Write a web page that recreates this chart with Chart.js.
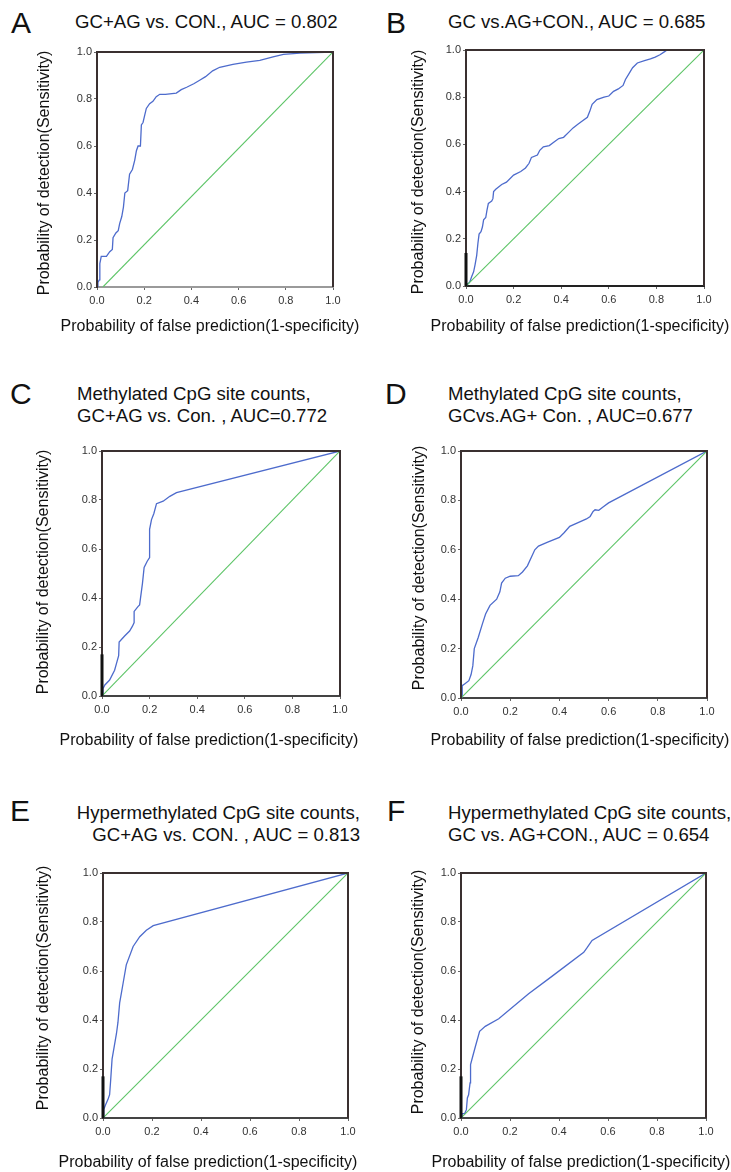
<!DOCTYPE html>
<html>
<head>
<meta charset="utf-8">
<script src="https://cdn.jsdelivr.net/npm/chart.js@4.4.0/dist/chart.umd.min.js"></script>
<style>
  body { margin: 0; width: 731px; height: 1172px; background: #fff; position: relative; overflow: hidden;
         font-family: "Liberation Sans", Arial, sans-serif; color: #111; }
  .letter { position: absolute; font-size: 30px; line-height: 1; }
  .title { position: absolute; font-size: 18.6px; line-height: 22px; white-space: nowrap; }
  .xt, .yt { position: absolute; font-size: 16px; line-height: 19px; white-space: nowrap; }
  .xt { transform: translate(-50%, -50%); }
  .yt { transform: translate(-50%, -50%) rotate(-90deg); }
  canvas { position: absolute; }
</style>
</head>
<body>
<div class="letter" style="left:11px;top:8px">A</div>
<div class="title" style="left:75px;top:11px">GC+AG vs. CON., AUC = 0.802</div>
<div class="letter" style="left:386px;top:8px">B</div>
<div class="title" style="left:448px;top:11px">GC vs.AG+CON., AUC = 0.685</div>

<div class="letter" style="left:10px;top:379px">C</div>
<div class="title" style="left:77px;top:383px">Methylated CpG site counts,<br>GC+AG vs. Con. , AUC=0.772</div>
<div class="letter" style="left:385px;top:379px">D</div>
<div class="title" style="left:448px;top:383px">Methylated CpG site counts,<br>GCvs.AG+ Con. , AUC=0.677</div>

<div class="letter" style="left:10px;top:796px">E</div>
<div class="title" style="left:76px;top:802px;width:284px;text-align:right">Hypermethylated CpG site counts,<br>GC+AG vs. CON. , AUC = 0.813</div>
<div class="letter" style="left:387px;top:796px">F</div>
<div class="title" style="left:448px;top:802px">Hypermethylated CpG site counts,<br>GC vs. AG+CON., AUC = 0.654</div>

<canvas id="cA" width="314" height="295" style="left:33px;top:40px"></canvas>
<canvas id="cB" width="311" height="297" style="left:407px;top:38px"></canvas>
<canvas id="cC" width="322" height="310" style="left:32px;top:439px"></canvas>
<canvas id="cD" width="313" height="310" style="left:408px;top:439px"></canvas>
<canvas id="cE" width="330" height="310" style="left:32px;top:861px"></canvas>
<canvas id="cF" width="313" height="310" style="left:407px;top:861px"></canvas>

<script>
// ROC curves: false positive rate (x) and sensitivity (y)
const fprA = [0,0.004,0.01,0.012,0.018,0.04,0.054,0.065,0.068,0.08,0.09,0.096,0.105,0.112,0.118,0.13,0.138,0.15,0.16,0.167,0.174,0.184,0.188,0.195,0.202,0.209,0.223,0.237,0.251,0.266,0.29,0.336,0.357,0.38,0.41,0.435,0.46,0.49,0.52,0.576,0.633,0.69,0.746,0.79,0.86,1];
const tprA = [0,0.02,0.03,0.1,0.13,0.13,0.15,0.16,0.21,0.23,0.24,0.27,0.3,0.34,0.4,0.41,0.48,0.5,0.54,0.58,0.6,0.6,0.69,0.7,0.73,0.76,0.78,0.79,0.81,0.82,0.82,0.825,0.84,0.85,0.865,0.88,0.895,0.92,0.935,0.947,0.957,0.964,0.979,0.99,0.995,1];

const fprB = [0,0.003,0.01,0.017,0.024,0.032,0.038,0.045,0.05,0.055,0.063,0.069,0.074,0.083,0.088,0.094,0.101,0.108,0.113,0.116,0.125,0.15,0.17,0.2,0.23,0.25,0.265,0.275,0.3,0.31,0.325,0.35,0.37,0.39,0.41,0.43,0.45,0.47,0.49,0.51,0.52,0.53,0.55,0.58,0.6,0.62,0.64,0.66,0.67,0.685,0.7,0.72,0.75,0.775,0.795,0.815,0.83,0.845,1];
const tprB = [0,0.01,0.01,0.02,0.04,0.06,0.09,0.13,0.18,0.22,0.23,0.25,0.28,0.29,0.32,0.35,0.355,0.36,0.37,0.4,0.41,0.43,0.44,0.47,0.485,0.5,0.52,0.545,0.555,0.575,0.59,0.595,0.61,0.625,0.63,0.65,0.67,0.685,0.7,0.715,0.74,0.77,0.79,0.8,0.805,0.825,0.835,0.85,0.875,0.9,0.925,0.945,0.955,0.962,0.97,0.98,0.99,1,1];

const fprC = [0,0.004,0.012,0.032,0.053,0.063,0.07,0.072,0.095,0.116,0.128,0.135,0.135,0.151,0.158,0.17,0.177,0.19,0.2,0.2,0.208,0.218,0.229,0.257,0.285,0.313,1];
const tprC = [0,0.03,0.045,0.065,0.105,0.14,0.165,0.22,0.245,0.265,0.285,0.3,0.345,0.365,0.372,0.46,0.525,0.55,0.565,0.68,0.72,0.745,0.785,0.795,0.815,0.83,1];

const fprD = [0,0.005,0.005,0.016,0.032,0.041,0.048,0.054,0.07,0.087,0.1,0.118,0.145,0.158,0.165,0.18,0.2,0.233,0.25,0.27,0.3,0.315,0.35,0.4,0.42,0.442,0.476,0.51,0.525,0.537,0.545,0.56,0.58,0.6,1];
const tprD = [0,0.005,0.05,0.058,0.07,0.095,0.13,0.2,0.245,0.3,0.34,0.375,0.4,0.43,0.465,0.485,0.493,0.495,0.51,0.535,0.6,0.615,0.63,0.65,0.67,0.695,0.71,0.725,0.735,0.755,0.762,0.76,0.775,0.79,1];

const fprE = [0,0.003,0.011,0.02,0.027,0.031,0.037,0.048,0.055,0.061,0.068,0.075,0.082,0.095,0.123,0.15,0.177,0.205,1];
const tprE = [0,0.035,0.055,0.075,0.095,0.15,0.24,0.305,0.345,0.39,0.47,0.51,0.55,0.625,0.7,0.74,0.766,0.785,1];

const fprF = [0,0.004,0.015,0.022,0.026,0.031,0.037,0.039,0.048,0.059,0.076,0.099,0.154,0.276,0.371,0.501,0.514,0.535,1];
const tprF = [0,0.018,0.018,0.034,0.082,0.095,0.143,0.218,0.252,0.293,0.354,0.374,0.405,0.507,0.578,0.676,0.694,0.725,1];

// reference (chance) lines
const diagXA = [0.025, 1];
const diagX = [0, 1];
const diagY = [0, 1];

const tickValues = [0, 0.2, 0.4, 0.6, 0.8, 1.0];
const xTitle = 'Probability of false prediction(1-specificity)';
const yTitle = 'Probability of detection(Sensitivity)';

const FONT = '"Liberation Sans", Arial, sans-serif';
const BLUE = '#4d6bcc';
const GREEN = '#5cc466';

// axis titles as page text, so they keep their natural width
function axisTitles(xc, xy, yx, yc) {
    const xt = document.createElement('div');
    xt.className = 'xt';
    xt.style.left = xc + 'px';
    xt.style.top = xy + 'px';
    xt.textContent = xTitle;
    document.body.appendChild(xt);
    const yt = document.createElement('div');
    yt.className = 'yt';
    yt.style.left = yx + 'px';
    yt.style.top = yc + 'px';
    yt.textContent = yTitle;
    document.body.appendChild(yt);
}

// draw the top / left / right edges of the plot box,
// plus the heavier black piece at the foot of the left edge seen in some panels
const framePlugin = {
    id: 'frame',
    afterDatasetsDraw(chart, args, opts) {
        const a = chart.chartArea;
        const ctx = chart.ctx;
        ctx.save();
        ctx.strokeStyle = '#3a3030';
        ctx.lineWidth = 2;
        ctx.beginPath();
        ctx.moveTo(a.left, a.bottom);
        ctx.lineTo(a.left, a.top);
        ctx.lineTo(a.right, a.top);
        ctx.lineTo(a.right, a.bottom);
        ctx.stroke();
        if (opts.stub) {
            const yTop = chart.scales.y.getPixelForValue(opts.stub);
            ctx.strokeStyle = '#111';
            ctx.lineWidth = 3;
            ctx.beginPath();
            ctx.moveTo(a.left, a.bottom);
            ctx.lineTo(a.left, yTop);
            ctx.stroke();
        }
        ctx.restore();
    }
};

function toPoints(xs, ys) {
    return xs.map((x, i) => ({ x: x, y: ys[i] }));
}

function rocChart(id, fpr, tpr, dx, yWidth, xHeight, bottomColor, stub) {
    const axisTicks = {
        color: '#333',
        font: { size: 11, family: FONT },
        maxRotation: 0,
        autoSkip: false
    };
    return new Chart(document.getElementById(id).getContext('2d'), {
        type: 'scatter',
        data: {
            datasets: [
                { data: toPoints(dx, diagY), showLine: true, borderColor: GREEN, borderWidth: 1.1, pointRadius: 0 },
                { data: toPoints(fpr, tpr), showLine: true, borderColor: BLUE, borderWidth: 1.3, pointRadius: 0 }
            ]
        },
        options: {
            responsive: false,
            animation: false,
            devicePixelRatio: 1,
            layout: { padding: { left: 0, top: 12, right: 14, bottom: 0 } },
            plugins: { legend: { display: false }, tooltip: { enabled: false }, frame: { stub: stub } },
            scales: {
                x: {
                    type: 'linear', min: 0, max: 1,
                    afterBuildTicks: s => { s.ticks = tickValues.map(v => ({ value: v })); },
                    ticks: Object.assign({ padding: 4, callback: v => v.toFixed(1) }, axisTicks),
                    grid: { drawOnChartArea: false, tickLength: 3, color: '#666' },
                    border: { color: bottomColor, width: 2 },
                    afterFit: s => { s.height = xHeight; }
                },
                y: {
                    type: 'linear', min: 0, max: 1,
                    afterBuildTicks: s => { s.ticks = tickValues.map(v => ({ value: v })); },
                    ticks: Object.assign({ padding: 2, callback: v => v.toFixed(1) }, axisTicks),
                    grid: { drawOnChartArea: false, tickLength: 3, color: '#666' },
                    border: { color: '#3a3030', width: 2 },
                    afterFit: s => { s.width = yWidth; }
                }
            }
        },
        plugins: [framePlugin]
    });
}

rocChart('cA', fprA, tprA, diagXA, 64, 48, '#9a9a9a', 0);
rocChart('cB', fprB, tprB, diagX, 59, 49, '#222', 0.14);
rocChart('cC', fprC, tprC, diagX, 70, 53, '#444', 0.17);
rocChart('cD', fprD, tprD, diagX, 53, 51, '#444', 0);
rocChart('cE', fprE, tprE, diagX, 71, 53, '#444', 0.17);
rocChart('cF', fprF, tprF, diagX, 54, 53, '#444', 0.17);

axisTitles(210, 325, 43, 173);
axisTitles(580, 325, 417, 172);
axisTitles(209, 739, 42, 572);
axisTitles(580, 739, 418, 568);
axisTitles(208, 1161, 42, 988);
axisTitles(581, 1161, 417, 992);
</script>
</body>
</html>
